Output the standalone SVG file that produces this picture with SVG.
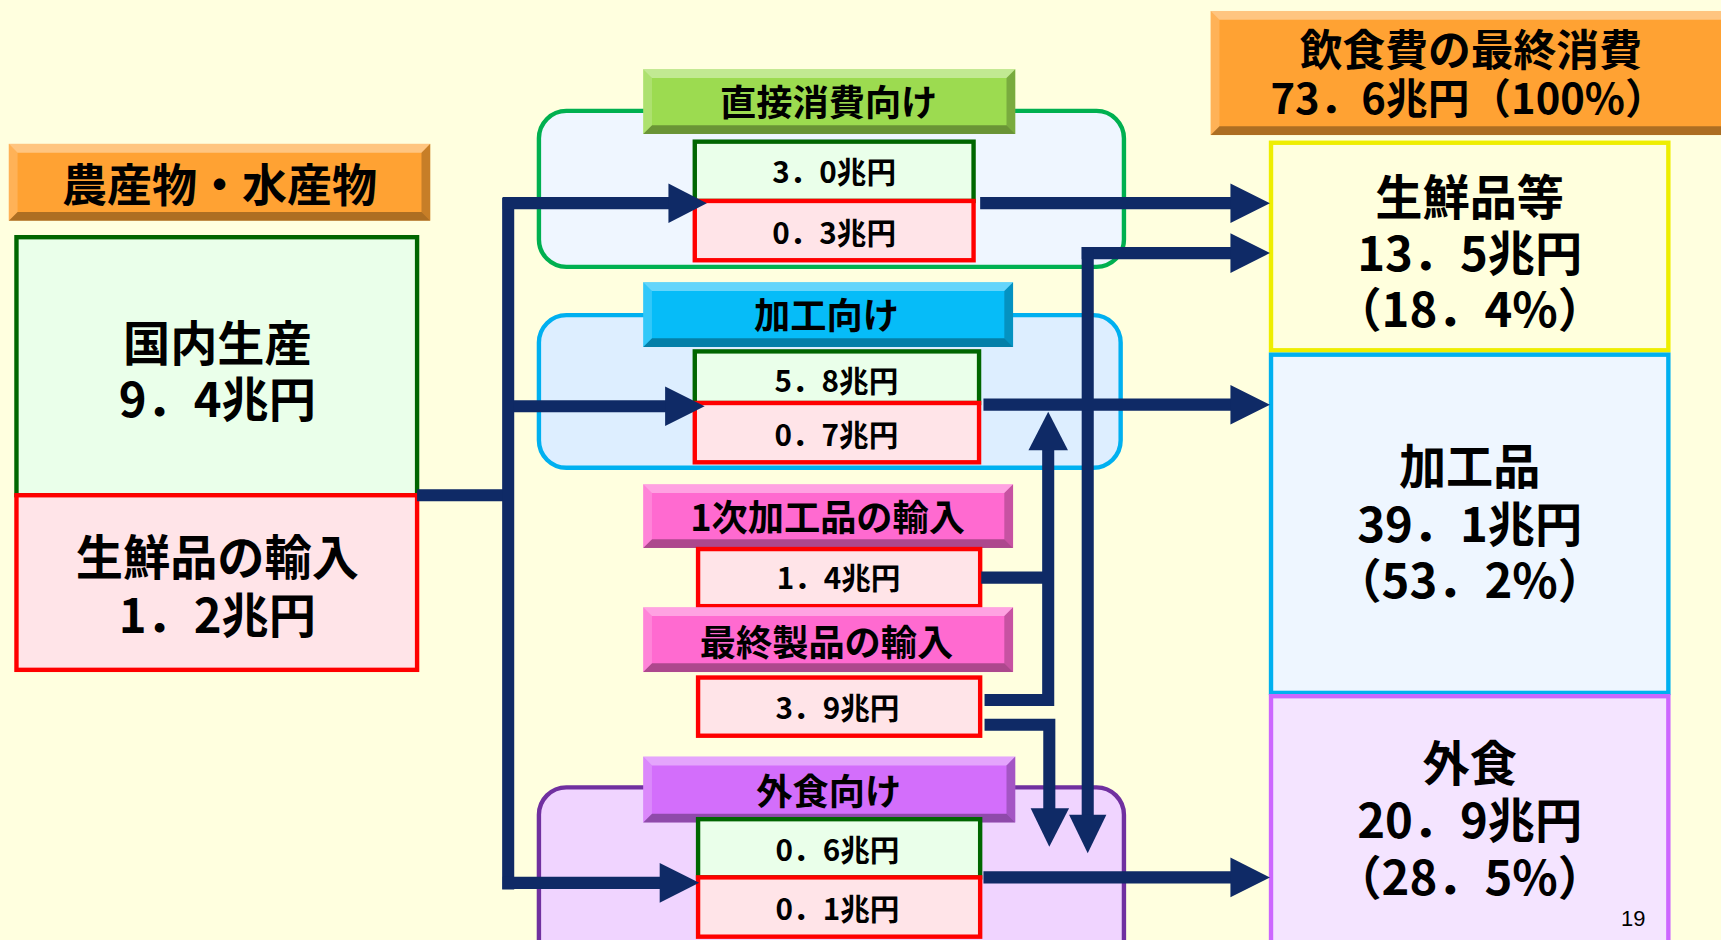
<svg xmlns="http://www.w3.org/2000/svg" width="1721" height="940" viewBox="0 0 1721 940">
<style>
text{font-family:"Noto Sans CJK JP","Noto Sans CJK SC",sans-serif;font-weight:bold;fill:#000;text-anchor:middle}
.big{font-size:43px}
.hd{font-size:33px}
.val{font-size:27px}
.bt{fill:#fff;opacity:.38}
.bb{fill:#000;opacity:.32}
.bl{fill:#fff;opacity:.18}
.br{fill:#000;opacity:.22}
.gbox{fill:#eaffea;stroke:#006600;stroke-width:4}
.rbox{fill:#ffe4e8;stroke:#ff0000;stroke-width:4}
.ln{stroke:#0f2a66;stroke-width:11;fill:none}
.ah{fill:#0f2a66}
</style>
<rect x="0" y="0" width="1721" height="940" fill="#ffffdf"/>
<g transform="scale(1.0976,1.0981)">
<g id="source-header">
<rect x="8" y="131" width="384" height="70" fill="#ffa233"/>
<polygon class="bt" points="8,131 392,131 384,139 16,139"/>
<polygon class="bb" points="8,201 392,201 384,193 16,193"/>
<polygon class="bl" points="8,131 16,139 16,193 8,201"/>
<polygon class="br" points="392,131 384,139 384,193 392,201"/>
<text x="200" y="184" style="font-size:41px">農産物・水産物</text>
</g>
<g id="domestic">
<rect class="gbox" x="15" y="216" width="365" height="235"/>
<text class="big" x="198" y="329">国内生産</text>
<text class="big" x="198" y="380">9．4兆円</text>
</g>
<g id="fresh-import">
<rect class="rbox" x="15" y="451" width="365" height="159"/>
<text class="big" x="198" y="524">生鮮品の輸入</text>
<text class="big" x="198" y="576">1．2兆円</text>
</g>
<g id="direct">
<rect x="491" y="101" width="533" height="142" rx="25" fill="#eff6ff" stroke="#00b050" stroke-width="4"/>
<rect x="586" y="63" width="339" height="59" fill="#9cdb50"/>
<polygon class="bt" points="586,63 925,63 917,71 594,71"/>
<polygon class="bb" points="586,122 925,122 917,114 594,114"/>
<polygon class="bl" points="586,63 594,71 594,114 586,122"/>
<polygon class="br" points="925,63 917,71 917,114 925,122"/>
<text class="hd" x="755" y="106">直接消費向け</text>
<rect class="gbox" x="633" y="129" width="254" height="54"/>
<text class="val" x="760" y="167">3．0兆円</text>
<rect class="rbox" x="633" y="183" width="254" height="54"/>
<text class="val" x="760" y="222">0．3兆円</text>
</g>
<g id="processing">
<rect x="491" y="287" width="530" height="139" rx="25" fill="#ddeeff" stroke="#00b0f0" stroke-width="4"/>
<rect x="586" y="257" width="337" height="59" fill="#06bcf8"/>
<polygon class="bt" points="586,257 923,257 915,265 594,265"/>
<polygon class="bb" points="586,316 923,316 915,308 594,308"/>
<polygon class="bl" points="586,257 594,265 594,308 586,316"/>
<polygon class="br" points="923,257 915,265 915,308 923,316"/>
<text class="hd" x="753" y="300">加工向け</text>
<rect class="gbox" x="633" y="320" width="259" height="47"/>
<text class="val" x="762" y="357">5．8兆円</text>
<rect class="rbox" x="633" y="367" width="259" height="54"/>
<text class="val" x="762" y="406">0．7兆円</text>
</g>
<g id="primary-import">
<rect x="586" y="441" width="337" height="58" fill="#ff6ad0"/>
<polygon class="bt" points="586,441 923,441 915,449 594,449"/>
<polygon class="bb" points="586,499 923,499 915,491 594,491"/>
<polygon class="bl" points="586,441 594,449 594,491 586,499"/>
<polygon class="br" points="923,441 915,449 915,491 923,499"/>
<text class="hd" x="754" y="484">1次加工品の輸入</text>
<rect class="rbox" x="636" y="500" width="257" height="52"/>
<text class="val" x="764" y="536">1．4兆円</text>
</g>
<g id="final-import">
<rect x="586" y="553" width="337" height="59" fill="#ff6ad0"/>
<polygon class="bt" points="586,553 923,553 915,561 594,561"/>
<polygon class="bb" points="586,612 923,612 915,604 594,604"/>
<polygon class="bl" points="586,553 594,561 594,604 586,612"/>
<polygon class="br" points="923,553 915,561 915,604 923,612"/>
<text class="hd" x="753" y="597">最終製品の輸入</text>
<rect class="rbox" x="636" y="617" width="257" height="53"/>
<text class="val" x="763" y="655">3．9兆円</text>
</g>
<g id="dining">
<rect x="491" y="717" width="533" height="170" rx="25" fill="#f0d4ff" stroke="#7030a0" stroke-width="4"/>
<rect x="586" y="689" width="339" height="60" fill="#d36efb"/>
<polygon class="bt" points="586,689 925,689 917,697 594,697"/>
<polygon class="bb" points="586,749 925,749 917,741 594,741"/>
<polygon class="bl" points="586,689 594,697 594,741 586,749"/>
<polygon class="br" points="925,689 917,697 917,741 925,749"/>
<text class="hd" x="755" y="733">外食向け</text>
<rect class="gbox" x="636" y="746" width="257" height="53"/>
<text class="val" x="763" y="784">0．6兆円</text>
<rect class="rbox" x="636" y="799" width="257" height="54"/>
<text class="val" x="763" y="838">0．1兆円</text>
</g>
<g id="final-header">
<rect x="1103" y="10" width="480" height="113" fill="#ffa233"/>
<polygon class="bt" points="1103,10 1583,10 1575,18 1111,18"/>
<polygon class="bb" points="1103,123 1583,123 1575,115 1111,115"/>
<polygon class="bl" points="1103,10 1111,18 1111,115 1103,123"/>
<text x="1340" y="60" style="font-size:39px">飲食費の最終消費</text>
<text x="1338" y="104" style="font-size:38px">73．6兆円（100%）</text>
</g>
<g id="fresh-products">
<rect x="1158" y="130" width="362" height="189" fill="#ffffdd" stroke="#eeee00" stroke-width="4"/>
<text class="big" x="1339" y="196">生鮮品等</text>
<text class="big" x="1339" y="247">13．5兆円</text>
<text class="big" x="1339" y="298">（18．4%）</text>
</g>
<g id="processed-products">
<rect x="1158" y="323" width="362" height="308" fill="#eef6ff" stroke="#00b0f0" stroke-width="4"/>
<text class="big" x="1339" y="441">加工品</text>
<text class="big" x="1339" y="494">39．1兆円</text>
<text class="big" x="1339" y="545">（53．2%）</text>
</g>
<g id="eating-out">
<rect x="1158" y="634" width="362" height="240" fill="#f4e4ff" stroke="#cc66ff" stroke-width="4"/>
<text class="big" x="1339" y="711">外食</text>
<text class="big" x="1339" y="763">20．9兆円</text>
<text class="big" x="1339" y="815">（28．5%）</text>
<text x="1488" y="843" style="font-family:'Liberation Sans',sans-serif;font-weight:normal;font-size:20px">19</text>
</g>
<g id="connectors">
<path class="ln" d="M380,451 H468"/>
<path class="ln" d="M463,180 V810"/>
<path class="ln" d="M458,185 H610"/>
<polygon class="ah" points="609,167 644,185 609,203"/>
<path class="ln" d="M468,370 H607"/>
<polygon class="ah" points="606,352 642,370 606,388"/>
<path class="ln" d="M458,804 H602"/>
<polygon class="ah" points="601,786 637,804 601,822"/>
<path class="ln" d="M893,185 H1122"/>
<polygon class="ah" points="1121,167 1157,185 1121,203"/>
<path class="ln" d="M1122,230.5 H985.5"/>
<path class="ln" d="M991,225 V743"/>
<polygon class="ah" points="1121,212.5 1157,230.5 1121,248.5"/>
<polygon class="ah" points="974,742 1008,742 991,777"/>
<path class="ln" d="M896,368.5 H1122"/>
<polygon class="ah" points="1121,350.5 1157,368.5 1121,386.5"/>
<path class="ln" d="M896,799 H1122"/>
<polygon class="ah" points="1121,781 1157,799 1121,817"/>
<path class="ln" d="M894,526 H955"/>
<path class="ln" d="M897,637.5 H955 V409"/>
<polygon class="ah" points="937,410 973,410 955,375"/>
<path class="ln" d="M897,660 H956 V737"/>
<polygon class="ah" points="939,736 974,736 956,771"/>
</g>
</g>
</svg>
